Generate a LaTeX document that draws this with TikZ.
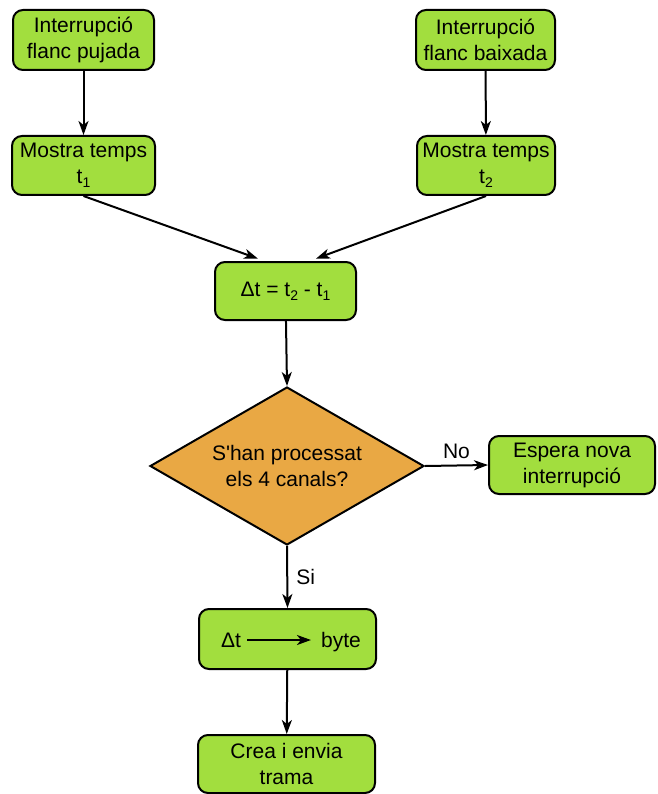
\documentclass[tikz,border=0pt]{standalone}
\usepackage{fontspec}
\newfontfamily\arialf{Liberation Sans}
\usetikzlibrary{shapes.geometric,arrows.meta}
\definecolor{boxgreen}{RGB}{162,222,62}
\definecolor{dorange}{RGB}{233,168,68}
\newcommand{\mysub}[1]{\raisebox{-4pt}{\fontsize{14}{14}\selectfont #1}}
\tikzset{
  procbox/.style={draw=black, line width=2pt, fill=boxgreen, rounded corners=10pt,
    align=center, inner sep=0pt, font=\arialf\fontsize{21}{26}\selectfont},
  decbox/.style={draw=black, line width=2pt, fill=dorange, diamond, aspect=1.73,
    align=center, inner sep=0pt, font=\arialf\fontsize{21}{26}\selectfont},
  flow/.style={draw=black, line width=2pt, -{Stealth[length=14pt,width=10pt,inset=4pt]}},
  lbl/.style={font=\arialf\fontsize{21}{26}\selectfont, inner sep=0pt}
}
\begin{document}
\begin{tikzpicture}[x=1pt,y=-1pt]
\useasboundingbox (0,0) rectangle (657,794);
\node[procbox, minimum width=141pt, minimum height=60pt] (up) at (83.5,40) {Interrupció\\flanc pujada};
\node[procbox, minimum width=139pt, minimum height=60pt] (down) at (485.5,40) {Interrupció\\flanc baixada};
\node[procbox, minimum width=143pt, minimum height=59pt] (m1) at (83.5,165.5) {Mostra temps\\t\mysub{1}};
\node[procbox, minimum width=138pt, minimum height=59pt] (m2) at (486,165.5) {Mostra temps\\t\mysub{2}};
\node[procbox, minimum width=141pt, minimum height=58pt] (dt) at (285.5,291) {Δt = t\mysub{2} - t\mysub{1}};
\node[decbox, minimum width=274pt, minimum height=158pt] (dec) at (287,466) {S'han processat\\els 4 canals?};
\node[procbox, minimum width=166pt, minimum height=58pt] (wait) at (572,465) {Espera nova\\interrupció};
\node[procbox, minimum width=177pt, minimum height=60pt] (conv) at (287.5,639) {};
\node[procbox, minimum width=177pt, minimum height=58pt] (send) at (286.5,764) {Crea i envia\\trama};
\node[lbl, anchor=base] (cdt) at (231,647) {Δt};
\node[lbl, anchor=base] (cbyte) at (341,647) {byte};
\draw[flow] ([xshift=6pt,yshift=7pt]cdt.base east) -- ([xshift=-10pt,yshift=7pt]cbyte.base west);
\draw[flow] (up) -- (m1);
\draw[flow] (down) -- (m2);
\draw[flow, shorten >=7pt] (m1.south) -- ([xshift=-21pt]dt.north);
\draw[flow, shorten >=7pt] (m2.south) -- ([xshift=24pt]dt.north);
\draw[flow] (dt) -- (dec.north);
\draw[flow] (dec.east) -- node[lbl, above=6pt] {No} (wait.west);
\draw[flow] (dec.south) -- node[lbl, right=8pt] {Si} (conv.north);
\draw[flow] (conv) -- (send);
\end{tikzpicture}
\end{document}
